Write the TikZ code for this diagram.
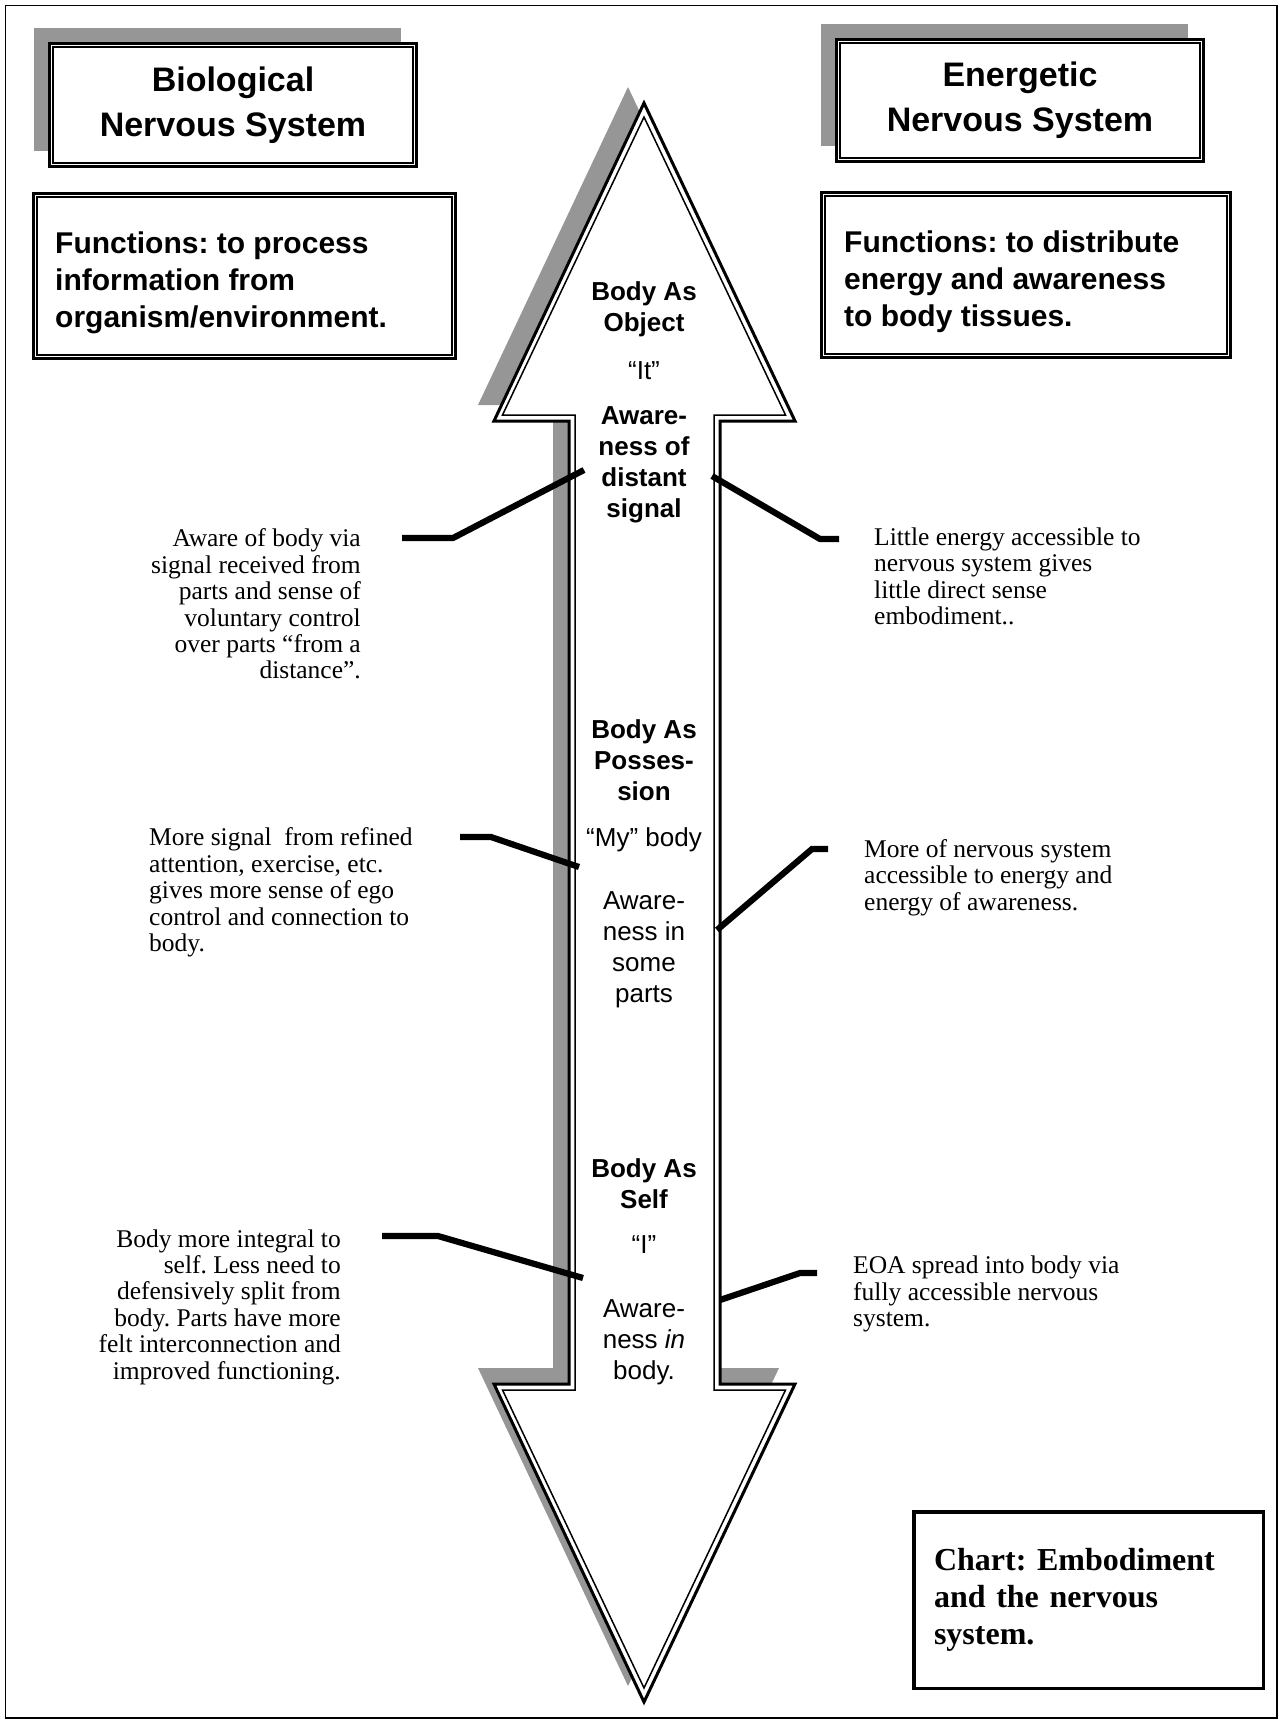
\documentclass[tikz,border=0pt]{standalone}
\usepackage{fontspec}
\setmainfont{Liberation Serif}
\setsansfont{Liberation Sans}
\usetikzlibrary{shadows}
\frenchspacing
\definecolor{shadowcolor}{RGB}{150,150,150}
\definecolor{bordercolor}{RGB}{0,0,0}
\tikzset{
    headbox/.style={
        rectangle,
        draw=bordercolor,
        fill=white,
        line width=3pt,
        inner sep=0pt,
        align=center,
        font=\sffamily\bfseries\fontsize{34}{45}\selectfont
    },
    funcbox/.style={
        rectangle,
        draw=bordercolor,
        fill=white,
        line width=3pt,
        inner sep=0pt
    },
    functext/.style={
        inner sep=0pt,
        align=left,
        font=\sffamily\bfseries\fontsize{30}{37}\selectfont
    },
    chartbox/.style={
        rectangle,
        draw=bordercolor,
        line width=3.5pt,
        inner sep=0pt,
        align=left,
        font=\bfseries\fontsize{32}{37}\selectfont
    },
    shadowed/.style={drop shadow={shadow xshift=-16pt, shadow yshift=16pt, opacity=1, fill=shadowcolor}},
    innerline/.style={draw=bordercolor, line width=1.5pt},
    stagelabel/.style={align=center, inner sep=0pt, font=\sffamily\fontsize{26}{31}\selectfont},
    stagetitle/.style={stagelabel, font=\sffamily\bfseries\fontsize{26}{31}\selectfont},
    note/.style={inner sep=0pt, font=\fontsize{25.5}{26.4}\selectfont},
    leader/.style={draw=bordercolor, line width=6.2pt}
}
\newcommand{\innerframe}[1]{%
  \draw[innerline] ([shift={(5pt,-5pt)}]#1.north west) rectangle ([shift={(-5pt,5pt)}]#1.south east);}

\begin{document}
\begin{tikzpicture}[x=1pt, y=-1pt]
    \useasboundingbox (0,0) rectangle (1280,1722);
    \draw[line width=1.5pt] (5.5,5.5) rectangle (1277,1718);

    % Titles
    \node[headbox, shadowed, minimum width=367, minimum height=123] (bio) at (233,105)
          {Biological\\Nervous System};
    \innerframe{bio}
    \node[headbox, shadowed, minimum width=367, minimum height=122] (energy) at (1020,100.5)
          {Energetic\\Nervous System};
    \innerframe{energy}

    % Functions
    \node[funcbox, minimum width=422, minimum height=165] (biofunc) at (244.5,276) {};
    \innerframe{biofunc}
    \node[functext, anchor=west] (biofunctext) at (55,283)
          {Functions: to process\\information from\\organism/environment.};
    \node[funcbox, minimum width=409, minimum height=165] (energyfunc) at (1026,275) {};
    \innerframe{energyfunc}
    \node[functext, anchor=west] (energyfunctext) at (844,282)
          {Functions: to distribute\\energy and awareness\\to body tissues.};

    % Double arrow
    \filldraw[fill=white, draw=bordercolor, line width=3pt, shadowed]
        (644,103) -- (795,421) -- (720,421) -- (720,1384) -- (795,1384) -- (644,1702)
        -- (494,1384) -- (569,1384) -- (569,421) -- (494,421) -- cycle;
    \draw[innerline]
        (644,117) -- (785.5,415) -- (714,415) -- (714,1390) -- (785.5,1390) -- (644,1688)
        -- (502.5,1390) -- (575,1390) -- (575,415) -- (502.5,415) -- cycle;

    % Stages
    \node[stagetitle] (object) at (644,309) {Body As\\Object};
    \node[stagelabel] (it) at (644,370.5) {“It”};
    \node[stagetitle] (distant) at (644,465) {Aware-\\ness of\\distant\\signal};
    \node[stagetitle] (possession) at (644,760) {Body As\\Posses-\\sion};
    \node[stagelabel] (my) at (644,840) {“My” body};
    \node[stagelabel] (someparts) at (644,950) {Aware-\\ness in\\some\\parts};
    \node[stagetitle] (self) at (644,1184) {Body As\\Self};
    \node[stagelabel] (i) at (644,1245) {“I”};
    \node[stagelabel] (inbody) at (644,1342) {Aware-\\ness \textit{in}\\body.};

    % Notes
    \node[note, align=right, anchor=east] (objleft) at (361,604)
          {Aware of body via\\signal received from\\parts and sense of\\voluntary control\\over parts “from a\\distance”.};
    \node[note, align=left, anchor=west] (objright) at (874,576.5)
          {Little energy accessible to\\nervous system gives\\little direct sense\\embodiment..};
    \node[note, align=left, anchor=west] (posleft) at (149,892.5)
          {More signal~ from refined\\attention, exercise, etc.\\gives more sense of ego\\control and connection to\\body.};
    \node[note, align=left, anchor=west] (posright) at (864,877.5)
          {More of nervous system\\accessible to energy and\\energy of awareness.};
    \node[note, align=right, anchor=east] (selfleft) at (341,1307)
          {Body more integral to\\self. Less need to\\defensively split from\\body. Parts have more\\felt interconnection and\\improved functioning.};
    \node[note, align=left, anchor=west] (selfright) at (853,1294)
          {EOA spread into body via\\fully accessible nervous\\system.};

    % Leaders
    \coordinate (objlefta) at (402,538);
    \coordinate (objleftb) at (453,538);
    \coordinate (objleftc) at (584,470);
    \coordinate (objrighta) at (712,476);
    \coordinate (objrightb) at (820,539);
    \coordinate (objrightc) at (839,539);
    \coordinate (poslefta) at (460,837);
    \coordinate (posleftb) at (491,837);
    \coordinate (posleftc) at (579,867);
    \coordinate (posrighta) at (717,930);
    \coordinate (posrightb) at (812,849);
    \coordinate (posrightc) at (828,849);
    \coordinate (selflefta) at (382,1236);
    \coordinate (selfleftb) at (438,1236);
    \coordinate (selfleftc) at (583,1278);
    \coordinate (selfrighta) at (720,1300);
    \coordinate (selfrightb) at (800,1273);
    \coordinate (selfrightc) at (817,1273);
    \draw[leader] (objlefta) -- (objleftb) -- (objleftc);
    \draw[leader] (objrighta) -- (objrightb) -- (objrightc);
    \draw[leader] (poslefta) -- (posleftb) -- (posleftc);
    \draw[leader] (posrighta) -- (posrightb) -- (posrightc);
    \draw[leader] (selflefta) -- (selfleftb) -- (selfleftc);
    \draw[leader] (selfrighta) -- (selfrightb) -- (selfrightc);

    % Chart caption
    \node[chartbox, minimum width=349.5, minimum height=176.5, text width=309] (chart) at (1088.5,1600)
          {Chart: Embodiment\\and the nervous\\system.};
\end{tikzpicture}
\end{document}
